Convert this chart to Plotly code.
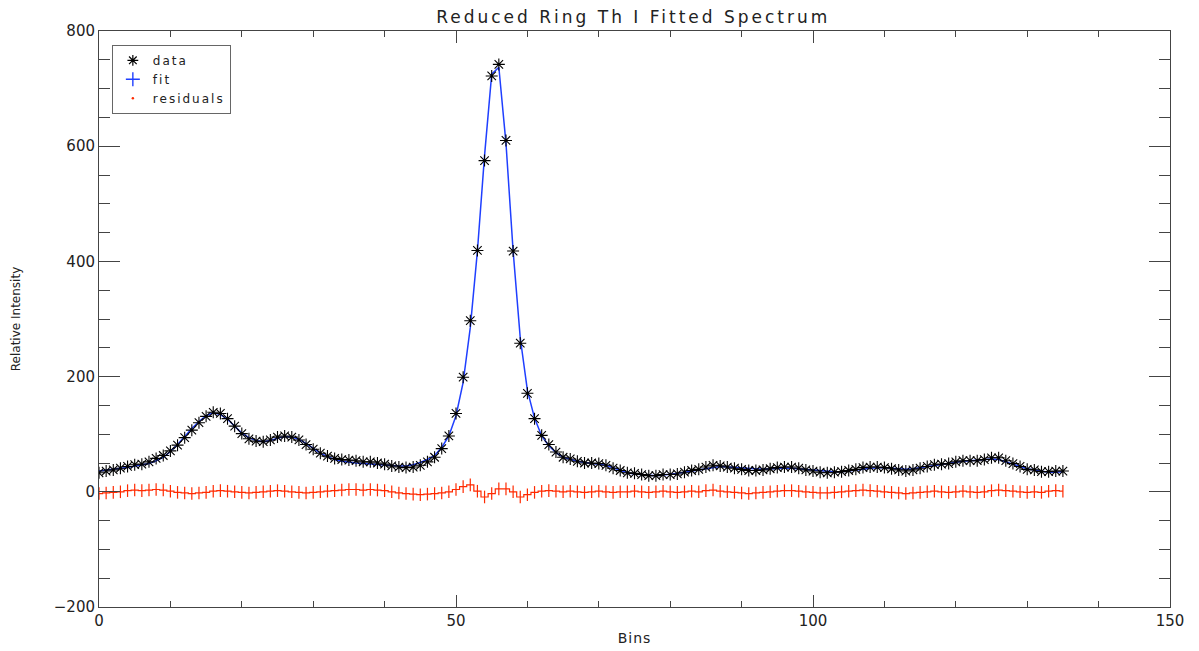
import plotly.graph_objects as go

bins = list(range(136))

fit = [36, 38, 39, 41, 42, 44, 46, 49, 54, 60,
       70, 82, 96, 110, 122, 132, 137, 134, 126, 114,
       102, 94, 89, 87, 89, 93, 96, 95, 91, 84,
       75, 67, 61, 56, 53, 51, 50, 49, 48, 47,
       46, 45, 45, 45, 47, 51, 56, 63, 77, 97,
       132, 190, 285, 418, 584, 725, 737, 605, 418, 267,
       176, 128, 97, 80, 68, 60, 56, 53, 51, 50,
       48, 46, 42, 37, 33, 31, 30, 29, 28, 29,
       30, 32, 34, 36, 39, 41, 43, 44, 43, 42,
       41, 40, 39, 39, 40, 41, 41, 41, 40, 38,
       37, 36, 35, 35, 35, 36, 37, 39, 41, 42,
       42, 41, 40, 39, 40, 42, 44, 46, 48, 50,
       52, 53, 54, 55, 56, 57, 56, 52, 48, 44,
       40, 38, 36, 34, 34, 35]

residuals = [-3, -2, -1, 0, 2, 3, 2, 3, 4, 3,
             1, -1, -2, -3, -2, -1, 1, 2, 1, 0,
             -1, -2, -1, 0, 1, 2, 1, 0, -1, -2,
             -1, 0, 1, 2, 3, 4, 4, 3, 4, 3,
             2, 0, -2, -3, -4, -5, -4, -3, -2, 0,
             4, 9, 12, 1, -9, -3, 5, 5, 0, -9,
             -5, -1, 1, 2, 1, 0, 1, 0, -1, 0,
             1, 0, -1, 0, 0, 1, 0, -1, 0, 1,
             0, -1, 0, 1, 0, 2, 3, 1, 0, -1,
             -2, -3, -2, -1, 0, 1, 2, 2, 1, 0,
             -1, -2, -2, -1, 0, 1, 2, 3, 2, 1,
             0, -1, -2, -3, -2, -1, 0, 1, 0, -1,
             0, 1, 0, -1, 0, 2, 3, 2, 1, 0,
             -1, 0, -1, 1, 2, 1]

data = [f + r for f, r in zip(fit, residuals)]

FONT = "DejaVu Sans"
RED = "#ff2a00"
BLUE = "#1f3fff"


def spaced(text, px):
    return f"<span style='letter-spacing:{px}px'>{text}</span>"


fig = go.Figure()

# residuals (histogram-style red steps with + marks)
fig.add_trace(go.Scatter(
    x=bins, y=residuals, mode="lines+markers",
    line=dict(color=RED, width=1.2, shape="hvh"),
    marker=dict(symbol="line-ns-open", size=9, color=RED, line=dict(color=RED, width=1.2)),
    showlegend=False, hoverinfo="skip"))

# fit line
fig.add_trace(go.Scatter(
    x=bins, y=fit, mode="lines",
    line=dict(color=BLUE, width=1.5),
    showlegend=False))

# data asterisks
fig.add_trace(go.Scatter(
    x=bins, y=data, mode="markers",
    marker=dict(symbol="asterisk-open", size=10, color="black",
                line=dict(color="rgba(0,0,0,0.8)", width=1.1)),
    showlegend=False))

# legend entries
fig.add_trace(go.Scatter(
    x=[None], y=[None], mode="markers", name=spaced("data", 2),
    marker=dict(symbol="asterisk-open", size=9, color="black", line=dict(color="black", width=1.2))))
fig.add_trace(go.Scatter(
    x=[None], y=[None], mode="markers", name=spaced("fit", 2),
    marker=dict(symbol="cross-thin-open", size=10, color=BLUE, line=dict(color=BLUE, width=1.4))))
fig.add_trace(go.Scatter(
    x=[None], y=[None], mode="markers", name=spaced("residuals", 2),
    marker=dict(symbol="circle", size=2.5, color=RED, line=dict(width=0))))

axis_common = dict(
    showline=True, linecolor="#444", linewidth=1, mirror="ticks",
    showgrid=False, zeroline=False, ticks="inside", tickcolor="#444",
    tickfont=dict(family=FONT, size=15, color="#222"), automargin=False,
)

W, H = 1191, 643

fig.update_layout(
    width=W, height=H,
    paper_bgcolor="white", plot_bgcolor="white",
    margin=dict(l=91, r=29, t=23, b=44, autoexpand=False),
    title=dict(text=spaced("Reduced Ring Th I Fitted Spectrum", 3), x=0.525, xanchor="center",
               y=1 - 9 / H, yanchor="middle", yref="container", automargin=False,
               font=dict(family=FONT, size=17, color="#222")),
    xaxis=dict(range=[0, 150], tickvals=[0, 50, 100, 150], ticklen=12,
               minor=dict(ticks="inside", ticklen=6, dtick=10, tickcolor="#444"),
               title=dict(text=spaced("Bins", 1), font=dict(family=FONT, size=14, color="#222"), standoff=4),
               **axis_common),
    yaxis=dict(range=[-200, 800], tickvals=[-200, 0, 200, 400, 600, 800],
               ticktext=["\u2212200", "0", "200", "400", "600", "800"], ticklen=21,
               minor=dict(ticks="inside", ticklen=11, dtick=50, tickcolor="#444"),
               title=dict(text="Relative Intensity", font=dict(family=FONT, size=12, color="#222"), standoff=30),
               **axis_common),
    legend=dict(x=0.012, y=0.976, xanchor="left", yanchor="top",
                bgcolor="white", bordercolor="#666", borderwidth=1,
                font=dict(family=FONT, size=12, color="#222"),
                tracegroupgap=0),
    showlegend=True,
)

fig.write_html("out.html")
